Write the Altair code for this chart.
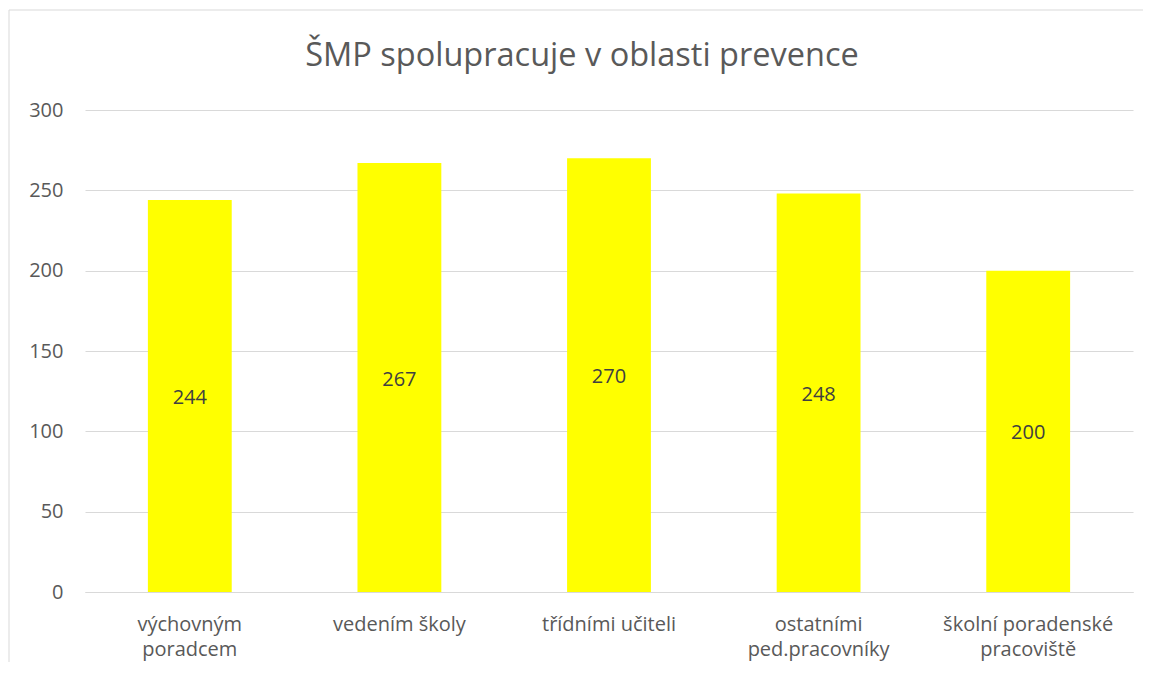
import altair as alt
import pandas as pd

categories = ["výchovným poradcem", "vedením školy", "třídními učiteli",
              "ostatními ped.pracovníky", "školní poradenské pracoviště"]
label_lines = [["výchovným", "poradcem"], ["vedením školy"], ["třídními učiteli"],
               ["ostatními", "ped.pracovníky"], ["školní poradenské", "pracoviště"]]
values = [244, 267, 270, 248, 200]
y_ticks = [0, 50, 100, 150, 200, 250, 300]
title = "ŠMP spolupracuje v oblasti prevence"

df = pd.DataFrame({"cat": categories, "val": values})
df["mid"] = df["val"] / 2

FONT = "Open Sans"
FS = 20

expr_parts = []
for c, lines in zip(categories, label_lines):
    arr = "[" + ",".join("'" + l + "'" for l in lines) + "]"
    expr_parts.append(f"datum.label == '{c}' ? {arr} : ")
label_expr = "".join(expr_parts) + "datum.label"

x = alt.X("cat:N", sort=categories, title=None,
          scale=alt.Scale(paddingInner=0.6, paddingOuter=0.3),
          axis=alt.Axis(labelAngle=0, labelExpr=label_expr, labelFontSize=FS,
                        labelColor="#595959", labelFont=FONT, ticks=False,
                        domainColor="#d9d9d9", labelPadding=22, labelLineHeight=25,
                        labelBaseline="top", grid=False))
y = alt.Y("val:Q", title=None,
          scale=alt.Scale(domain=[0, 300], nice=False),
          axis=alt.Axis(values=y_ticks, labelFontSize=FS, labelColor="#595959",
                        labelFont=FONT, ticks=False, domain=False,
                        gridColor="#d9d9d9", labelPadding=22))

bars = alt.Chart(df).mark_bar(color="#FFFF00").encode(x=x, y=y)
text = alt.Chart(df).mark_text(fontSize=FS, color="#404040", font=FONT, dy=2).encode(
    x=alt.X("cat:N", sort=categories), y=alt.Y("mid:Q"), text="val:Q")

title_mark = alt.Chart(df.head(1)).mark_text(
    fontSize=32.5, color="#595959", font=FONT, align="center", baseline="middle",
    clip=False).encode(x=alt.value(497), y=alt.value(-54), text=alt.value(title))

frame_top = alt.Chart(df.head(1)).mark_rule(color="#d9d9d9", clip=False).encode(
    x=alt.value(-76), x2=alt.value(1100), y=alt.value(-100))
frame_left = alt.Chart(df.head(1)).mark_rule(color="#d9d9d9", clip=False).encode(
    x=alt.value(-76), y=alt.value(-100), y2=alt.value(600))

chart = alt.layer(frame_top, frame_left, bars, text, title_mark).properties(
    width=1048, height=482,
    autosize=alt.AutoSizeParams(type="none"),
    padding={"left": 77, "top": 102, "right": 10, "bottom": 70},
).configure_view(stroke=None)

chart.save("out.html", embed_options={"renderer": "svg", "actions": False})
